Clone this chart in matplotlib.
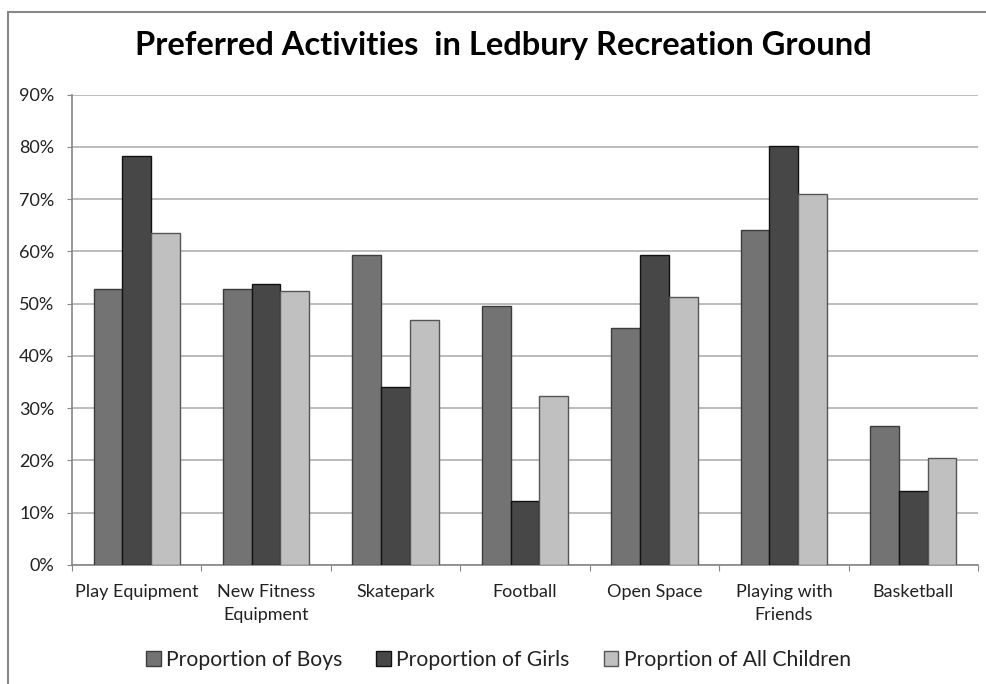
import matplotlib
matplotlib.use('Agg')
import matplotlib.pyplot as plt
from matplotlib.patches import Rectangle
from matplotlib.ticker import PercentFormatter
import numpy as np

plt.rcParams['font.family'] = ['Lato', 'DejaVu Sans']

categories = ['Play Equipment', 'New Fitness\nEquipment', 'Skatepark', 'Football',
              'Open Space', 'Playing with\nFriends', 'Basketball']
boys = [52.8, 52.8, 59.3, 49.5, 45.4, 64.1, 26.6]
girls = [78.2, 53.7, 34.0, 12.2, 59.3, 80.1, 14.1]
all_children = [63.6, 52.4, 46.8, 32.4, 51.2, 71.0, 20.5]
series_names = ['Proportion of Boys', 'Proportion of Girls', 'Proprtion of All Children']

fill_colors = ['#737373', '#474747', '#c0c0c0']
edge_colors = ['#3c3c3c', '#111111', '#555555']

fig = plt.figure(figsize=(9.87, 6.84), dpi=100)
ax = fig.add_axes([0.0729, 0.174, 0.918, 0.6876])

# chart area border (only top and left are visible in the crop)
fig.patches.append(Rectangle((8 / 987, -0.1), 1.2, 1.1 - 12 / 684,
                             transform=fig.transFigure, fill=False,
                             edgecolor='#888888', linewidth=1.5))

x = np.arange(len(categories))
w = 0.222
for i, vals in enumerate([boys, girls, all_children]):
    ax.bar(x + (i - 1) * w, vals, width=w, color=fill_colors[i],
           edgecolor=edge_colors[i], linewidth=1.0, label=series_names[i], zorder=3)

ax.set_xlim(-0.5, len(categories) - 0.5)
ax.set_ylim(0, 90)
ax.set_yticks(np.arange(0, 91, 10))
ax.yaxis.set_major_formatter(PercentFormatter(decimals=0))
ax.grid(axis='y', color='#b0b0b0', linewidth=1.2, zorder=0)

ax.set_xticks(np.arange(len(categories) + 1) - 0.5)
ax.set_xticklabels([])
ax.set_xticks(x, minor=True)
ax.set_xticklabels(categories, minor=True, fontsize=13, color='#222222', linespacing=1.5)
ax.tick_params(axis='x', which='minor', length=0, pad=14)
ax.tick_params(axis='x', which='major', length=4.3, color='#868686', direction='out')
ax.tick_params(axis='y', length=3.6, color='#868686', labelsize=13, labelcolor='#222222', pad=9)

for s in ['top', 'right']:
    ax.spines[s].set_visible(False)
for s in ['left', 'bottom']:
    ax.spines[s].set_color('#868686')
    ax.spines[s].set_linewidth(1.2)

fig.text(0.510, 1 - 55 / 684, 'Preferred Activities  in Ledbury Recreation Ground',
         ha='center', va='baseline', fontsize=23.5, fontweight='bold', color='black')

fig.legend(loc='center', bbox_to_anchor=(0.505, 1 - 660 / 684), ncol=3, frameon=False,
           fontsize=15.2, handlelength=0.7, handleheight=0.7, handletextpad=0.25,
           columnspacing=1.6, labelcolor='#222222')

fig.savefig('out.png', dpi=100)
